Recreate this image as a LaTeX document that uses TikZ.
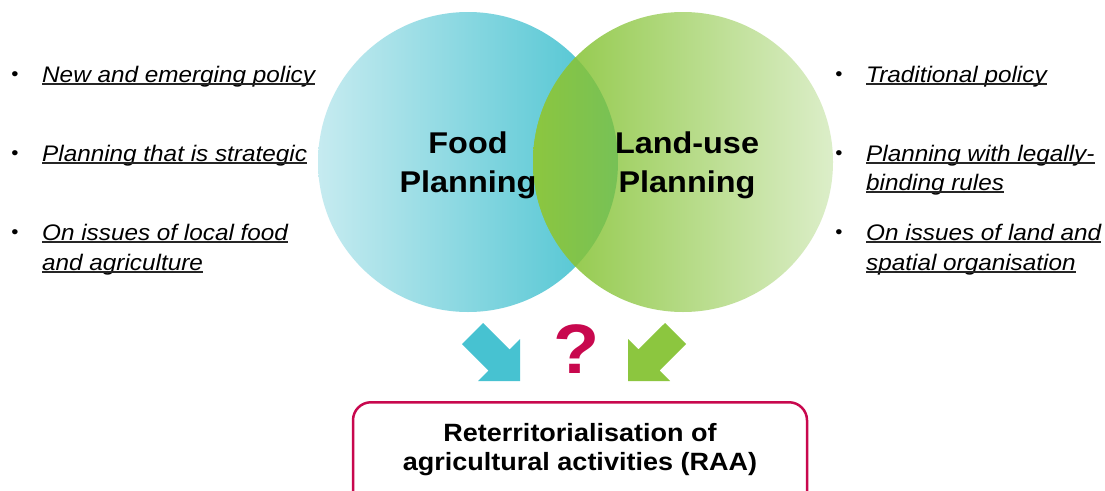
\documentclass[tikz,border=0pt]{standalone}
\usepackage{fontspec}
\setmainfont{Liberation Sans}[FakeStretch=1.08]
\definecolor{blueL}{HTML}{C6EBF0}
\definecolor{blueR}{HTML}{49C3D1}
\definecolor{greenL}{HTML}{8CC63F}
\definecolor{greenR}{HTML}{DCEEC9}
\definecolor{ovL}{HTML}{8CC63F}
\definecolor{ovR}{HTML}{77C156}
\definecolor{qred}{HTML}{C8084E}
\definecolor{arrB}{HTML}{47C2D1}
\definecolor{arrG}{HTML}{8CC63F}
\begin{document}
\begin{tikzpicture}[x=1pt,y=-1pt,
  bul/.style={inner sep=0pt, anchor=base, font=\fontsize{19}{22}\selectfont},
  itm/.style={inner sep=0pt, anchor=base west, font=\fontsize{22.5}{27}\selectfont\itshape},
  ctitle/.style={inner sep=0pt, anchor=base, font=\fontsize{30}{36}\selectfont\bfseries},
  btxt/.style={inner sep=0pt, anchor=base, font=\fontsize{25}{30}\selectfont\bfseries},
  ul/.style={line width=1.3pt, black!85}]
\useasboundingbox (0,0) rectangle (1105,490);
\clip (0,0) rectangle (1105,490);
\fill[white] (0,0) rectangle (1105,490);
% circles
\shade[left color=blueL, right color=blueR] (468,162) circle (150);
\shade[left color=greenL, right color=greenR] (683,162) circle (150);
\begin{scope}
  \clip (468,162) circle (150);
  \clip (683,162) circle (150);
  \shade[left color=ovL, right color=ovR] (533,12) rectangle (618,312);
\end{scope}
% circle titles
\node[ctitle] (food1) at (468,153) {Food};
\node[ctitle] (food2) at (468,192) {Planning};
\node[ctitle] (land1) at (687,153) {Land-use};
\node[ctitle] (land2) at (687,192) {Planning};
% left bullets
\node[bul] (lb1) at (15,80) {•};
\node[itm] (l1) at (42,82) {New and emerging policy};
\node[bul] (lb2) at (15,159) {•};
\node[itm] (l2) at (42,161) {Planning that is strategic};
\node[bul] (lb3) at (15,238) {•};
\node[itm] (l3a) at (42,240) {On issues of local food};
\node[itm] (l3b) at (42,270) {and agriculture};
% right bullets
\node[bul] (rb1) at (839,80) {•};
\node[itm] (r1) at (866,82) {Traditional policy};
\node[bul] (rb2) at (839,159) {•};
\node[itm] (r2a) at (866,161) {Planning with legally-};
\node[itm] (r2b) at (866,190) {binding rules};
\node[bul] (rb3) at (839,238) {•};
\node[itm] (r3a) at (866,240) {On issues of land and};
\node[itm] (r3b) at (866,270) {spatial organisation};
\foreach \n in {l1,l2,l3a,l3b,r1,r2a,r2b,r3a,r3b}
  \draw[ul] ([yshift=-2pt]\n.base west) -- ([yshift=-2pt]\n.base east);
% block arrows
\fill[arrB] (483,323) -- (509.6,349.4) -- (520,339) -- (520,381) -- (478,381) -- (488.4,370.6) -- (462,344) -- cycle;
\fill[arrG] (665,323) -- (638.4,349.4) -- (628,339) -- (628,381) -- (670,381) -- (659.6,370.6) -- (686,344) -- cycle;
% question mark
\node[inner sep=0pt, anchor=base, font=\fontsize{70}{80}\selectfont\bfseries, text=qred] (q) at (577,373) {?};
% bottom box
\node[draw=qred, line width=2.5pt, rounded corners=18pt, minimum width=454pt, minimum height=120pt, anchor=north, inner sep=0pt] (raa) at (580,401) {};
\node[btxt] (raa1) at (580,441) {Reterritorialisation of};
\node[btxt] (raa2) at (580,470) {agricultural activities (RAA)};
\end{tikzpicture}
\end{document}
